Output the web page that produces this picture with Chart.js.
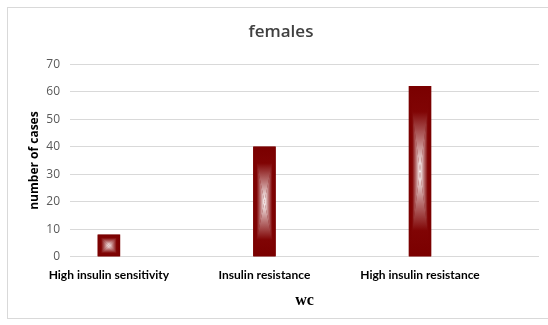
<!DOCTYPE html>
<html>
<head>
<meta charset="utf-8">
<script src="https://cdn.jsdelivr.net/npm/chart.js@4.4.1/dist/chart.umd.min.js"></script>
<style>
  html, body { margin: 0; padding: 0; background: #fff; overflow: hidden; }
  #wrap { position: relative; width: 548px; height: 325px; }
  #frame { position: absolute; left: 7px; top: 7px; width: 600px; height: 312px; border: 1px solid #d9d9d9; box-sizing: border-box; pointer-events: none; }
  canvas { position: absolute; left: 0; top: 0; }
</style>
</head>
<body>
<div id="wrap">
  <canvas id="c" width="548" height="325"></canvas>
  <div id="frame"></div>
</div>
<script>
const categories = ["High insulin sensitivity", "Insulin resistance", "High insulin resistance"];
const values = [8, 40, 62];
const yTicks = [0, 10, 20, 30, 40, 50, 60, 70];
const chartTitle = "females";
const xTitle = "wc";
const yTitle = "number of cases";

const barDark = '#7a0000';

function fillTri(ctx, pts, g) {
  ctx.beginPath();
  ctx.moveTo(pts[0][0], pts[0][1]);
  ctx.lineTo(pts[1][0], pts[1][1]);
  ctx.lineTo(pts[2][0], pts[2][1]);
  ctx.closePath();
  ctx.fillStyle = g;
  ctx.fill();
}
function makeGrad(ctx, x0, y0, x1, y1) {
  const g = ctx.createLinearGradient(x0, y0, x1, y1);
  g.addColorStop(0, barDark);
  g.addColorStop(0.3, '#800404');
  g.addColorStop(0.65, '#bc7878');
  g.addColorStop(1, '#ffffff');
  return g;
}

const rectGradient = {
  id: 'rectGradient',
  afterDatasetsDraw(chart) {
    const ctx = chart.ctx;
    const meta = chart.getDatasetMeta(0);
    meta.data.forEach(el => {
      const p = el.getProps(['x', 'y', 'base', 'width'], true);
      const l = p.x - p.width / 2, r = p.x + p.width / 2;
      const t = Math.min(p.y, p.base), b = Math.max(p.y, p.base);
      const cx = (l + r) / 2, cy = (t + b) / 2;
      ctx.save();
      fillTri(ctx, [[l, t], [r, t], [cx, cy]], makeGrad(ctx, cx, t, cx, cy));
      fillTri(ctx, [[l, b], [r, b], [cx, cy]], makeGrad(ctx, cx, b, cx, cy));
      fillTri(ctx, [[l, t], [l, b], [cx, cy]], makeGrad(ctx, l, cy, cx, cy));
      fillTri(ctx, [[r, t], [r, b], [cx, cy]], makeGrad(ctx, r, cy, cx, cy));
      ctx.restore();
    });
  }
};

new Chart(document.getElementById('c'), {
  type: 'bar',
  data: {
    datasets: [{
      data: categories.map((c, i) => ({ x: i, y: values[i] })),
      backgroundColor: barDark,
      borderWidth: 0,
      barThickness: 22
    }]
  },
  plugins: [rectGradient],
  options: {
    responsive: false,
    animation: false,
    layout: { padding: { left: 23, right: 9, top: 8, bottom: 11 } },
    plugins: {
      legend: { display: false },
      tooltip: { enabled: false },
      title: {
        display: true,
        text: chartTitle,
        color: '#404040',
        font: { family: 'Open Sans', size: 17, weight: '600', lineHeight: 1.2 },
        padding: { top: 14, bottom: 22 }
      }
    },
    scales: {
      x: {
        type: 'linear',
        offset: false,
        min: -0.25,
        max: 2.765,
        afterBuildTicks: (scale) => { scale.ticks = categories.map((c, i) => ({ value: i })); },
        afterFit: (scale) => { scale.height = 57.3; },
        grid: { display: false, drawTicks: false, offset: false },
        border: { display: false },
        ticks: {
          autoSkip: false,
          maxRotation: 0,
          padding: 11,
          color: '#000000',
          font: { family: 'Lato', size: 12, weight: 'bold', lineHeight: 1.2 },
          callback: (v) => categories[v] ?? ''
        },
        title: {
          display: true,
          text: xTitle,
          color: '#000000',
          font: { family: 'Liberation Serif', size: 16, weight: 'bold', lineHeight: 1.2 },
          padding: { top: 8, bottom: 4 }
        }
      },
      y: {
        min: 0,
        max: 70,
        afterBuildTicks: (scale) => { scale.ticks = yTicks.map(v => ({ value: v })); },
        afterFit: (scale) => { scale.width = 47; },
        grid: { color: '#d9d9d9', lineWidth: 1, drawTicks: false },
        border: { display: false },
        ticks: {
          padding: 10,
          color: '#595959',
          font: { family: 'Open Sans', size: 12, weight: 'normal' }
        },
        title: {
          display: true,
          text: yTitle,
          color: '#000000',
          font: { family: 'Open Sans', size: 12, weight: 'bold', lineHeight: 1.2 },
          padding: { top: 4, bottom: 4 }
        }
      }
    }
  }
});
</script>
</body>
</html>
